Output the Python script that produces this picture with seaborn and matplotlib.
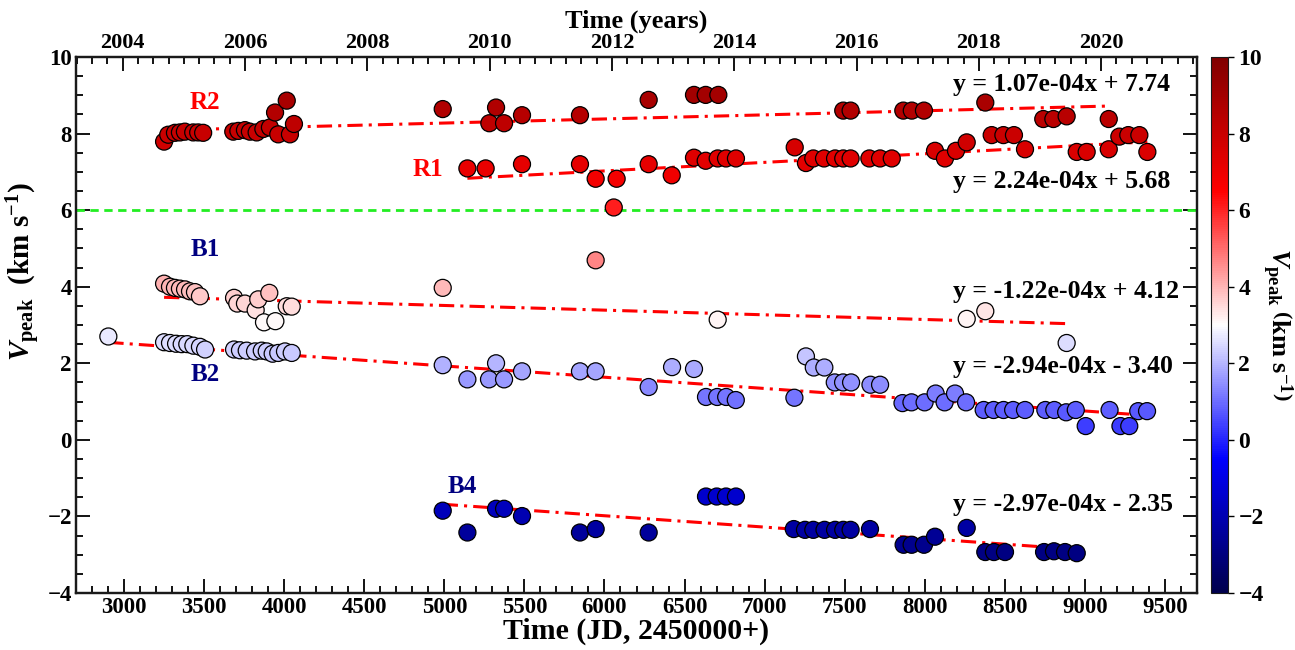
import numpy as np
import pandas as pd
import matplotlib
matplotlib.use("Agg")
import matplotlib.pyplot as plt
from matplotlib.ticker import MultipleLocator
import seaborn as sns

# ---- peak velocities (km/s) against JD - 2450000, grouped by component ----
r2_jd = [3250, 3276, 3318, 3349, 3380, 3432, 3463, 3494, 3682, 3714, 3755, 3786,
         3828, 3870, 3911, 3943, 3963, 4016, 4036, 4061, 4990, 5281, 5323, 5373,
         5485, 5847, 6276, 6559, 6632, 6711, 7491, 7537, 7866, 7919, 7995, 8378,
         8740, 8803, 8886, 9149]
r2_v = [7.79, 7.97, 8.02, 8.03, 8.05, 8.03, 8.03, 8.02, 8.05, 8.07, 8.09, 8.05,
        8.03, 8.12, 8.16, 8.55, 7.98, 8.86, 7.98, 8.25, 8.64, 8.27, 8.68, 8.27,
        8.48, 8.48, 8.88, 9.01, 9.01, 9.01, 8.60, 8.60, 8.60, 8.60, 8.60, 8.81,
        8.38, 8.38, 8.45, 8.38]

r1_jd = [5144, 5258, 5485, 5847, 5945, 6058, 6076, 6276, 6420, 6559, 6632, 6707,
         6759, 6821, 7188, 7258, 7304, 7371, 7440, 7491, 7537, 7654, 7721, 7794,
         8064, 8126, 8195, 8262, 8418, 8491, 8557, 8626, 8949, 9011, 9149, 9215,
         9271, 9340, 9390]
r1_v = [7.09, 7.09, 7.20, 7.20, 6.82, 6.07, 6.82, 7.20, 6.91, 7.37, 7.29, 7.35,
        7.35, 7.35, 7.64, 7.23, 7.35, 7.35, 7.35, 7.35, 7.35, 7.35, 7.35, 7.35,
        7.55, 7.35, 7.55, 7.77, 7.96, 7.96, 7.96, 7.59, 7.52, 7.52, 7.59, 7.92,
        7.96, 7.96, 7.52]

b1_jd = [3250, 3287, 3318, 3349, 3381, 3412, 3443, 3474, 3687, 3707, 3755, 3822,
         3838, 3907, 3874, 3945, 4016, 4047, 4990, 5945, 6707, 8262, 8378]
b1_v = [4.08, 4.00, 3.97, 3.95, 3.93, 3.88, 3.86, 3.75, 3.71, 3.56, 3.56, 3.39,
        3.67, 3.84, 3.07, 3.10, 3.49, 3.48, 3.97, 4.69, 3.14, 3.16, 3.36]

b2_jd = [2902, 3250, 3287, 3325, 3360, 3395, 3433, 3474, 3506, 3687, 3724, 3766,
         3818, 3860, 3891, 3928, 3963, 4005, 4047, 4990, 5144, 5279, 5323, 5373,
         5485, 5847, 5945, 6276, 6422, 6559, 6634, 6704, 6760, 6820, 7186, 7258,
         7307, 7373, 7438, 7490, 7540, 7661, 7721, 7861, 7917, 7999, 8068, 8124,
         8189, 8258, 8368, 8430, 8492, 8552, 8626, 8753, 8809, 8883, 8886, 8943,
         9005, 9154, 9222, 9277, 9333, 9388]
b2_v = [2.70, 2.55, 2.53, 2.51, 2.50, 2.50, 2.46, 2.43, 2.36, 2.36, 2.34, 2.33,
        2.31, 2.33, 2.31, 2.25, 2.27, 2.31, 2.27, 1.95, 1.58, 1.58, 2.00, 1.58,
        1.79, 1.79, 1.79, 1.38, 1.90, 1.85, 1.12, 1.12, 1.12, 1.04, 1.10, 2.18,
        1.89, 1.89, 1.50, 1.50, 1.50, 1.44, 1.44, 0.96, 0.98, 0.98, 1.21, 0.98,
        1.21, 0.98, 0.78, 0.78, 0.78, 0.78, 0.78, 0.78, 0.78, 0.72, 2.53, 0.78,
        0.36, 0.78, 0.36, 0.36, 0.75, 0.75]

b4_jd = [4990, 5144, 5323, 5373, 5485, 5847, 5945, 6276, 6634, 6701, 6759, 6821,
         7182, 7252, 7304, 7374, 7440, 7491, 7537, 7658, 7868, 7918, 7995, 8064,
         8262, 8378, 8432, 8501, 8745, 8807, 8876, 8949]
b4_v = [-1.85, -2.42, -1.80, -1.80, -1.99, -2.42, -2.33, -2.42, -1.48, -1.48,
        -1.48, -1.48, -2.33, -2.35, -2.35, -2.35, -2.35, -2.35, -2.35, -2.33,
        -2.74, -2.74, -2.74, -2.53, -2.30, -2.93, -2.93, -2.93, -2.93, -2.91,
        -2.93, -2.96]

# ---- linear trends per component ----
fit_names = ["R2", "R1", "B1", "B2", "B4"]
fit_slope = [1.07e-4, 2.24e-4, -1.22e-4, -2.94e-4, -2.97e-4]
fit_icpt = [7.74, 5.68, 4.12, 3.40, -0.20]
fit_start = [3250, 5144, 3250, 2902, 4990]
fit_end = [9149, 9390, 8886, 9388, 8949]
fit_text = ["y = 1.07e-04x + 7.74", "y = 2.24e-04x + 5.68",
            "y = -1.22e-04x + 4.12", "y = -2.94e-04x - 3.40",
            "y = -2.97e-04x - 2.35"]
fit_text_y = [9.29, 6.76, 3.88, 1.92, -1.70]

# component labels
comp_names = ["R2", "R1", "B1", "B2", "B4"]
comp_x = [3505, 4898, 3505, 3505, 5110]
comp_y = [8.82, 7.07, 4.98, 1.70, -1.23]
comp_color = ["red", "red", "navy", "navy", "navy"]

threshold_v = 6.0
year_ticks = list(range(2004, 2021, 2))

frames = []
for name, jd, v in [("R2", r2_jd, r2_v), ("R1", r1_jd, r1_v),
                    ("B1", b1_jd, b1_v), ("B2", b2_jd, b2_v),
                    ("B4", b4_jd, b4_v)]:
    frames.append(pd.DataFrame({"jd": jd, "vpeak": v, "comp": name}))
df = pd.concat(frames, ignore_index=True)

sns.set_theme(style="ticks")
plt.rcParams["font.family"] = ["Liberation Serif", "DejaVu Serif"]
plt.rcParams["font.weight"] = "bold"
plt.rcParams["mathtext.fontset"] = "custom"
plt.rcParams["mathtext.rm"] = "Liberation Serif"
plt.rcParams["mathtext.it"] = "Liberation Serif:italic"
plt.rcParams["mathtext.bf"] = "Liberation Serif:bold"
plt.rcParams["axes.linewidth"] = 1.6
plt.rcParams["axes.edgecolor"] = "#1a1a1a"
for key in ["text.color", "axes.labelcolor", "xtick.color", "ytick.color"]:
    plt.rcParams[key] = "black"

W, H = 1295, 650
fig = plt.figure(figsize=(W / 100, H / 100), dpi=100)
ax = fig.add_axes([76 / W, 57 / H, 1121 / W, 536 / H])
cax = fig.add_axes([1211 / W, 57 / H, 17 / W, 536 / H])

vmin, vmax = -4, 10
cmap = plt.get_cmap("seismic")
norm = matplotlib.colors.Normalize(vmin=vmin, vmax=vmax)

# trend lines under the markers
for s, b, x0, x1 in zip(fit_slope, fit_icpt, fit_start, fit_end):
    xx = np.array([x0, x1], dtype=float)
    ax.plot(xx, s * xx + b, color="red", lw=2.2, dashes=(5, 2, 1, 2), zorder=2)

ax.axhline(threshold_v, color="#22ee22", lw=2.0, dashes=(3, 2), zorder=1)

sns.scatterplot(data=df, x="jd", y="vpeak", hue="vpeak", palette="seismic",
                hue_norm=norm, s=150, edgecolor="black", linewidth=0.9,
                legend=False, ax=ax, zorder=3)

for t, ty in zip(fit_text, fit_text_y):
    ax.text(8177, ty, t, fontsize=18.5, fontweight="bold", color="black",
            ha="left", va="center", zorder=4)

for n, x, y, c in zip(comp_names, comp_x, comp_y, comp_color):
    ax.text(x, y, n, fontsize=18, fontweight="bold", color=c,
            ha="center", va="center", zorder=4)

ax.set_xlim(2700, 9700)
ax.set_ylim(vmin, vmax)
ax.xaxis.set_major_locator(MultipleLocator(500))
ax.xaxis.set_minor_locator(MultipleLocator(100))
ax.yaxis.set_major_locator(MultipleLocator(2))
ax.yaxis.set_minor_locator(MultipleLocator(0.5))
ax.tick_params(which="both", direction="in", top=False, right=True,
               labelsize=16.5, width=1.3)
ax.tick_params(which="major", length=10, pad=3)
ax.tick_params(which="minor", length=5)
for lab in ax.get_xticklabels() + ax.get_yticklabels():
    lab.set_fontweight("bold")

ax.set_xlabel("Time (JD, 2450000+)", fontsize=21.5, fontweight="bold", labelpad=0)
ax.set_ylabel(r"$V_{\mathrm{peak}}$  (km s$^{-1}$)", fontsize=21,
              fontweight="bold")
ax.yaxis.set_label_coords(-0.029, 0.60)

# calendar-year axis along the top
ax2 = ax.twiny()
ax2.set_xlim(2003.236, 2021.568)
ax2.set_xticks(year_ticks)
ax2.xaxis.set_minor_locator(MultipleLocator(0.25))
ax2.tick_params(which="both", direction="in", labelsize=16, width=1.3)
ax2.tick_params(which="major", length=10, pad=3)
ax2.tick_params(which="minor", length=5)
for lab in ax2.get_xticklabels():
    lab.set_fontweight("bold")
ax2.set_xlabel("Time (years)", fontsize=19, fontweight="bold", labelpad=4)

sm = matplotlib.cm.ScalarMappable(norm=norm, cmap=cmap)
cb = fig.colorbar(sm, cax=cax)
cb.set_ticks(np.arange(-4, 11, 2))
cb.ax.tick_params(labelsize=17, length=4, width=1)
cb.outline.set_linewidth(0.8)
for lab in cb.ax.get_yticklabels():
    lab.set_fontweight("bold")
cb.set_label(r"$V_{\mathrm{peak}}\ \left(\mathbf{km\ s}^{-1}\right)$",
             fontsize=19, rotation=270, labelpad=22)

fig.savefig("out.png", dpi=100)
